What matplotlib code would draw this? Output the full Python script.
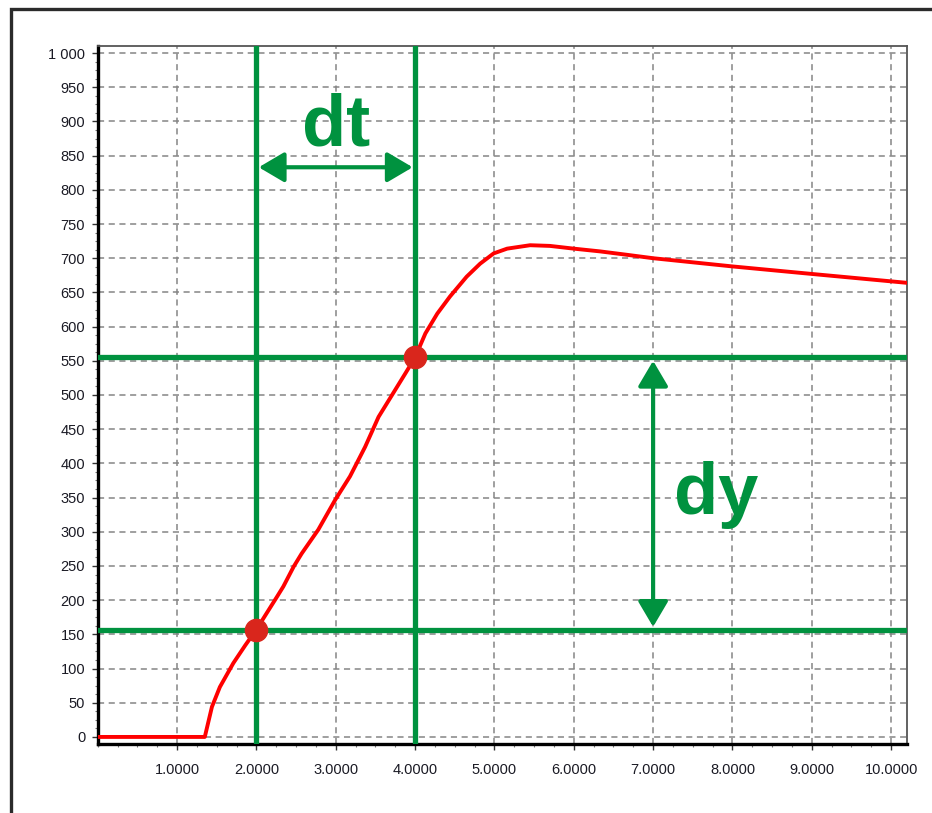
import matplotlib.pyplot as plt
import matplotlib.ticker as ticker
from matplotlib.patches import Rectangle

plt.rcParams["font.family"] = ["Liberation Sans", "DejaVu Sans"]

# 測定カーブ（時間, 値）
t = [0.0, 1.35, 1.44, 1.54, 1.71, 1.86, 2.0, 2.26, 2.34, 2.47, 2.57, 2.78, 2.99,
     3.18, 3.37, 3.54, 3.71, 3.88, 4.0, 4.13, 4.28, 4.44, 4.65, 4.82, 4.99, 5.16,
     5.45, 5.70, 6.0, 6.33, 6.67, 7.0, 8.0, 9.0, 10.2]
val = [0, 0, 44, 73, 108, 134, 157, 205, 220, 249, 268, 303, 346,
       381, 424, 468, 500, 532, 555, 590, 619, 644, 673, 692, 707, 714,
       719, 718, 714, 710, 705, 700, 688, 677, 664]

# 計測点
t_marks = [2.0, 4.0]
y_marks = [157, 555]

x_ticks = [1, 2, 3, 4, 5, 6, 7, 8, 9, 10]
y_ticks = list(range(0, 1001, 50))

GREEN = "#00923F"
RED_DOT = "#D9261C"
LABEL_COL = "#1a1a24"

fig = plt.figure(figsize=(9.32, 8.13), dpi=100)

# 外枠（右と下は画面外）
fig.patches.append(Rectangle((10.5 / 932, -0.05), 1.2, 1 - 9.5 / 813 + 0.05,
                             transform=fig.transFigure, fill=False,
                             edgecolor="#2b2b2b", linewidth=2.4))

ax = fig.add_axes([0.1048, 0.0843, 0.9732 - 0.1048, 0.944 - 0.0843])
ax.set_xlim(0, 10.2)
ax.set_ylim(-11, 1011)

ax.set_xticks(x_ticks)
ax.set_yticks(y_ticks)
ax.xaxis.set_minor_locator(ticker.MultipleLocator(0.25))
ax.yaxis.set_minor_locator(ticker.MultipleLocator(12.5))
ax.xaxis.set_major_formatter(ticker.FuncFormatter(lambda v, p: f"{v:.4f}"))
ax.yaxis.set_major_formatter(
    ticker.FuncFormatter(lambda v, p: f"{int(v):,}".replace(",", " ")))

ax.grid(True, which="major", color="#858585", linestyle=(0, (4, 3)), linewidth=1.1)
ax.set_axisbelow(True)

ax.tick_params(which="major", length=4, width=1.0, color="#333333",
               labelsize=10.5, labelcolor=LABEL_COL)
ax.tick_params(which="minor", length=2.5, width=0.8, color="#777777")
ax.tick_params(axis="x", pad=9)
ax.tick_params(axis="y", pad=5)

for s in ["left", "bottom"]:
    ax.spines[s].set_linewidth(2.4)
    ax.spines[s].set_color("black")
for s in ["top", "right"]:
    ax.spines[s].set_linewidth(1.3)
    ax.spines[s].set_color("#555555")

# 補助線
for tm in t_marks:
    ax.axvline(tm, color=GREEN, linewidth=3.8, zorder=3)
for ym in y_marks:
    ax.axhline(ym, color=GREEN, linewidth=3.8, zorder=3)

ax.plot(t, val, color="#FF0000", linewidth=2.8, zorder=4)
ax.plot(t_marks, y_marks, "o", color=RED_DOT, markersize=16, zorder=5)

arrow = dict(arrowstyle="<|-|>,head_length=0.78,head_width=0.46",
             mutation_scale=20, color=GREEN, lw=3.0, shrinkA=0, shrinkB=0)
ax.annotate("", xy=(2.03, 833), xytext=(3.97, 833), arrowprops=arrow, zorder=6)
ax.annotate("", xy=(7.0, 550), xytext=(7.0, 161), arrowprops=arrow, zorder=6)

ax.text(3.0, 865, "dt", color=GREEN, fontsize=52, fontweight="bold",
        ha="center", va="baseline", zorder=6)
ax.text(7.8, 326, "dy", color=GREEN, fontsize=52, fontweight="bold",
        ha="center", va="baseline", zorder=6)

fig.savefig("out.png", dpi=100)
